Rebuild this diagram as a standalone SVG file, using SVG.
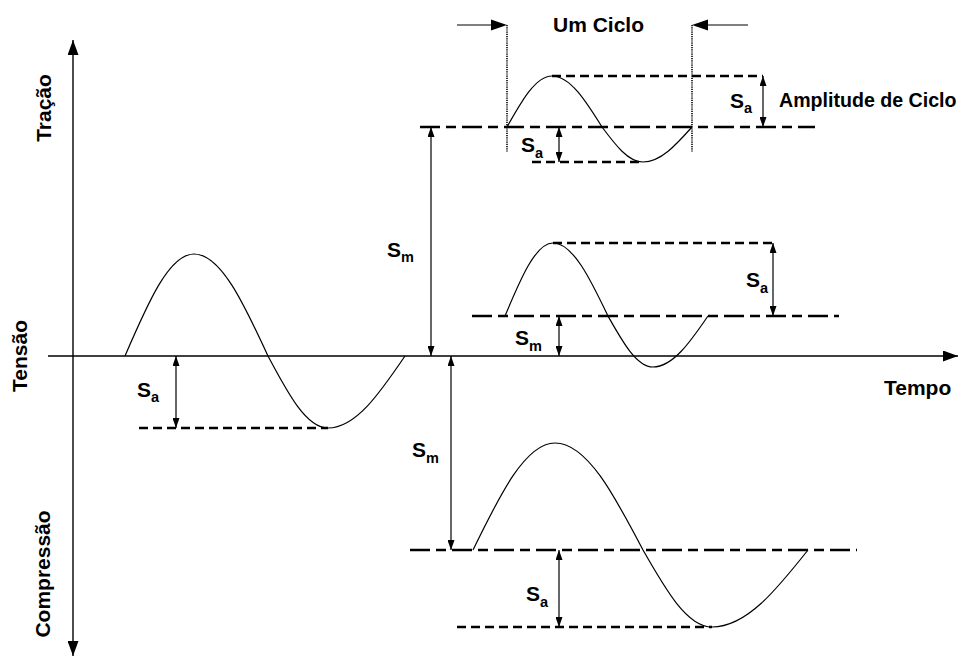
<svg xmlns="http://www.w3.org/2000/svg" width="958" height="657" viewBox="0 0 958 657">
<style>
text{font-family:"Liberation Sans",Arial,sans-serif;font-weight:bold;fill:#000}
.lbl{font-size:21px}
.amp{font-size:19.6px}
.sub{font-size:14.5px}
.axis{stroke:#000;stroke-width:1.4;fill:none}
.wave{stroke:#000;stroke-width:1.2;fill:none}
.adash{stroke:#000;stroke-width:2.4;stroke-dasharray:9 5;fill:none}
.mdash{stroke:#000;stroke-width:2.4;stroke-dasharray:20 6 10 6;fill:none}
.dim{stroke:#000;stroke-width:1.2;fill:none;marker-start:url(#ah);marker-end:url(#ah)}
.cyc{stroke:#000;stroke-width:1.2;fill:none}
.dot{stroke:#000;stroke-width:1.6;stroke-dasharray:1.2 1;fill:none}
</style>
<defs>
<marker id="ah" viewBox="0 0 10 7" refX="10" refY="3.5" markerWidth="10" markerHeight="7" markerUnits="userSpaceOnUse" orient="auto-start-reverse"><path d="M0,0 L10,3.5 L0,7 z" fill="#000"/></marker>
<marker id="axh" viewBox="0 0 15 11" refX="15" refY="5.5" markerWidth="15" markerHeight="11" markerUnits="userSpaceOnUse" orient="auto-start-reverse"><path d="M0,0 L15,5.5 L0,11 z" fill="#000"/></marker>
<marker id="ch" viewBox="0 0 16 11" refX="16" refY="5.5" markerWidth="16" markerHeight="11" markerUnits="userSpaceOnUse" orient="auto"><path d="M0,0 L16,5.5 L0,11 z" fill="#000"/></marker>
</defs>

<g id="axes">
<line class="axis" x1="73" y1="656" x2="73" y2="40" marker-start="url(#axh)" marker-end="url(#axh)"/>
<line class="axis" x1="48" y1="356" x2="958" y2="356" marker-end="url(#axh)"/>
</g>

<g id="axis-labels">
<text class="lbl" transform="translate(51,108) rotate(-90)" text-anchor="middle">Tração</text>
<text class="lbl" transform="translate(27,356) rotate(-90)" text-anchor="middle">Tensão</text>
<text class="lbl" transform="translate(50,574) rotate(-90)" text-anchor="middle">Compressão</text>
<text class="lbl" x="884" y="395">Tempo</text>
</g>

<g id="wave-left">
<path class="wave" d="M125,356 C147.5,303.8 169,254 194,254 C220.8,254 243.9,303.8 268,356 C287.6,392.9 306.3,428 328,428 C355.9,428 379.9,392.9 405,356"/>
<line class="adash" x1="139" y1="428" x2="328" y2="428"/>
<line class="dim" x1="176" y1="356" x2="176" y2="428"/>
<text class="lbl" x="137" y="397">S<tspan class="sub" dy="5">a</tspan></text>
</g>

<g id="wave-top">
<path class="wave" d="M507,127 C521.7,100.9 535.7,76 552,76 C570.1,76 585.7,100.9 602,127 C615.4,144.9 628.2,162 643,162 C660.7,162 676,144.9 692,127"/>
<line class="mdash" x1="420" y1="127" x2="815" y2="127"/>
<line class="adash" x1="552" y1="76" x2="763" y2="76"/>
<line class="adash" x1="532" y1="162" x2="643" y2="162"/>
<line class="dim" x1="763" y1="76" x2="763" y2="127"/>
<line class="dim" x1="559" y1="127" x2="559" y2="162"/>
<text class="lbl" x="730" y="108">S<tspan class="sub" dy="5">a</tspan></text>
<text class="lbl" x="521" y="152">S<tspan class="sub" dy="6">a</tspan></text>
<text class="amp" x="779" y="107">Amplitude de Ciclo</text>
</g>

<g id="cycle">
<line class="dot" x1="507" y1="25" x2="507" y2="152"/>
<line class="dot" x1="692" y1="25" x2="692" y2="152"/>
<line class="cyc" x1="457" y1="25" x2="492" y2="25"/>
<polygon points="491,19.5 507,25 491,30.5" fill="#000"/>
<line class="cyc" x1="748" y1="25" x2="707" y2="25"/>
<polygon points="708,19.5 692,25 708,30.5" fill="#000"/>
<text class="lbl" x="553" y="32">Um Ciclo</text>
</g>

<g id="wave-middle">
<path class="wave" d="M505,316 C520.6,278.6 535.6,243 553,243 C572.9,243 590.1,278.6 608,316 C622.7,342.1 636.7,367 653,367 C672.9,367 690.1,342.1 708,316"/>
<line class="mdash" x1="472" y1="316" x2="839" y2="316"/>
<line class="adash" x1="553" y1="243" x2="773" y2="243"/>
<line class="dim" x1="773" y1="243" x2="773" y2="316"/>
<line class="dim" x1="559" y1="316" x2="559" y2="356"/>
<text class="lbl" x="746" y="287">S<tspan class="sub" dy="6">a</tspan></text>
<text class="lbl" x="515" y="345">S<tspan class="sub" dy="6">m</tspan></text>
</g>

<g id="wave-bottom">
<path class="wave" d="M473,550 C499.7,495.2 525.3,443 555,443 C586.9,443 614.3,495.2 643,550 C665.5,589.4 687,627 712,627 C746.8,627 776.7,589.4 808,550"/>
<line class="mdash" x1="410" y1="550" x2="857" y2="550"/>
<line class="adash" x1="457" y1="627" x2="712" y2="627"/>
<line class="dim" x1="559" y1="550" x2="559" y2="627"/>
<text class="lbl" x="526" y="601">S<tspan class="sub" dy="6">a</tspan></text>
</g>

<g id="mean-offsets">
<line class="dim" x1="431" y1="127" x2="431" y2="356"/>
<line class="dim" x1="451" y1="356" x2="451" y2="550"/>
<text class="lbl" x="387" y="257">S<tspan class="sub" dy="5">m</tspan></text>
<text class="lbl" x="412" y="457">S<tspan class="sub" dy="6">m</tspan></text>
</g>
</svg>
